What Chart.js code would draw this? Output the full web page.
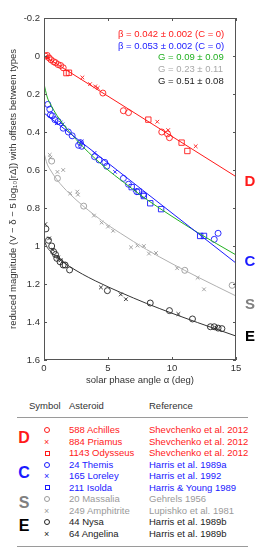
<!DOCTYPE html>
<html>
<head>
<meta charset="utf-8">
<script src="https://cdn.jsdelivr.net/npm/chart.js@4.4.0/dist/chart.umd.min.js"></script>
<style>
    body { margin: 0; background: #fff; font-family: "Liberation Sans", Arial, sans-serif; }
    #wrap { position: relative; width: 269px; height: 560px; overflow: hidden; }
    #plot { position: absolute; left: 0; top: 0; width: 269px; height: 395px; }
    .t { position: absolute; font-size: 9.5px; line-height: 12px; height: 12px; white-space: nowrap; }
    .big { position: absolute; font-size: 16px; font-weight: bold; line-height: 18px; width: 20px; text-align: center; }
    .rule { position: absolute; left: 17px; width: 231px; height: 1px; background: #9a9a9a; }
    .mk { position: absolute; box-sizing: border-box; }
</style>
</head>
<body>
<div id="wrap">
    <div id="plot"><canvas id="phaseChart"></canvas></div>
    <div id="table"></div>
</div>
<script>
// ================= DATA =================
const alphaTicks = [0, 5, 10, 15];
const magTicks = [-0.2, 0, 0.2, 0.4, 0.6, 0.8, 1.0, 1.2, 1.4, 1.6];

// D type (red)
const achillesPts = [[0.1, 0.0], [0.25, -0.003], [0.4, 0.01], [0.55, 0.02], [0.75, 0.03], [0.9, 0.035],
    [1.1, 0.045], [1.3, 0.05], [1.5, 0.062], [4.6, 0.195], [6.2, 0.288], [6.6, 0.298],
    [9.2, 0.40], [9.65, 0.41], [9.8, 0.43]];
const priamusPts = [[0.3, 0.005], [3.0, 0.113], [3.6, 0.148], [4.0, 0.16], [4.2, 0.168],
    [8.85, 0.346], [9.7, 0.39], [11.85, 0.475]];
const odysseusPts = [[1.75, 0.09], [1.95, 0.088], [8.15, 0.335], [10.75, 0.456], [11.2, 0.50]];

// C type (blue)
const themisPts = [[0.3, 0.255], [0.45, 0.28], [0.5, 0.31], [0.65, 0.315], [0.85, 0.335], [1.1, 0.345],
    [1.5, 0.38], [1.9, 0.40], [2.2, 0.42], [2.7, 0.47], [2.85, 0.456], [2.95, 0.475],
    [3.95, 0.53], [4.3, 0.547], [4.75, 0.56], [4.9, 0.58], [6.2, 0.644], [6.6, 0.675],
    [7.25, 0.714], [7.75, 0.73], [13.3, 0.965], [13.6, 0.933]];
const loreleyPts = [[1.0, 0.354], [1.3, 0.35], [1.45, 0.36], [2.95, 0.45], [3.95, 0.51],
    [5.55, 0.61], [7.1, 0.705]];
const isoldaPts = [[6.85, 0.69], [7.4, 0.714], [7.8, 0.737], [8.3, 0.775], [9.15, 0.806],
    [12.2, 0.947], [12.5, 0.947]];

// S type (gray)
const massaliaPts = [[0.6, 0.553], [1.05, 0.644], [3.1, 0.79], [11.0, 1.128], [14.7, 1.207]];
const amphitritePts = [[0.45, 0.52], [0.5, 0.535], [1.05, 0.61], [1.5, 0.60], [2.05, 0.723],
    [2.6, 0.714], [2.65, 0.73], [3.9, 0.84], [4.5, 0.877], [5.0, 0.898], [5.4, 0.92],
    [6.8, 1.007], [7.3, 0.998], [7.8, 1.0], [8.2, 1.04], [8.75, 1.037], [10.4, 1.117],
    [12.0, 1.167], [12.5, 1.228]];

// E type (black)
const nysaPts = [[0.15, 0.91], [0.35, 0.97], [0.6, 1.0], [0.75, 1.03], [0.9, 1.045], [1.0, 1.065],
    [1.25, 1.083], [1.5, 1.1], [1.65, 1.1], [2.0, 1.126], [4.95, 1.235], [8.3, 1.30],
    [9.8, 1.34], [11.6, 1.384], [13.0, 1.425], [13.3, 1.425], [13.6, 1.432], [13.9, 1.435]];
const angelinaPts = [[0.1, 0.885], [0.4, 0.96], [0.7, 1.02], [1.1, 1.06], [1.3, 1.075],
    [4.45, 1.218], [6.0, 1.255], [6.4, 1.28], [10.5, 1.358], [13.45, 1.43]];

// fitted curves
const fitAlpha = [0, 0.25, 0.5, 1, 1.5, 2, 3, 4, 5, 6, 8, 10, 12, 15];
const fitGreenC = [0.146, 0.216, 0.253, 0.312, 0.359, 0.40, 0.475, 0.54, 0.60, 0.653, 0.754, 0.844, 0.929, 1.047];
const fitGrayS = [0.51, 0.569, 0.60, 0.65, 0.69, 0.725, 0.786, 0.84, 0.89, 0.934, 1.018, 1.093, 1.163, 1.263];
const fitBlackE = [0.97, 1.007, 1.028, 1.059, 1.085, 1.108, 1.148, 1.183, 1.215, 1.245, 1.302, 1.354, 1.403, 1.474];
const lineAlpha = [0, 15];
const lineRedD = [0.0, 0.635];
const lineBlueC = [0.30, 1.09];

const fitLabels = ['β = 0.042 ± 0.002 (C = 0)', 'β = 0.053 ± 0.002 (C = 0)',
    'G = 0.09 ± 0.09', 'G = 0.23 ± 0.11', 'G = 0.51 ± 0.08'];
const typeLabels = ['D', 'C', 'S', 'E'];
const typeLabelMag = [0.66, 1.085, 1.31, 1.48];

// ================= COLOURS =================
const RED = '#ff1a1a';
const BLUE = '#1a1aff';
const GREEN = '#22b022';
const GRAY = '#9a9a9a';
const BLACK = '#222';

const FONT = '"Liberation Sans", Arial, sans-serif';

const pts = arr => arr.map(p => ({ x: p[0], y: p[1] }));
const curve = (xs, ys) => xs.map((x, i) => ({ x, y: ys[i] }));

function markers(data, style, color, radius) {
    return {
        data: pts(data),
        showLine: false,
        pointStyle: style,
        pointRadius: radius,
        borderColor: color,
        backgroundColor: 'rgba(0,0,0,0)',
        pointBorderWidth: 0.9
    };
}

function fitLine(data, color) {
    return {
        data,
        showLine: true,
        pointRadius: 0,
        borderColor: color,
        borderWidth: 1,
        tension: 0.4,
        cubicInterpolationMode: 'monotone'
    };
}

// ================= FRAME PLUGIN =================
const framePlugin = {
    id: 'frame',
    afterDatasetsDraw(chart) {
        const { ctx, chartArea: a, scales: { x, y } } = chart;
        ctx.save();
        ctx.strokeStyle = '#555';
        ctx.lineWidth = 1;
        ctx.strokeRect(a.left + 0.5, a.top + 0.5, a.right - a.left - 1, a.bottom - a.top - 1);

        ctx.beginPath();
        alphaTicks.forEach(v => {
            const px = Math.round(x.getPixelForValue(v)) + 0.5;
            ctx.moveTo(px, a.bottom); ctx.lineTo(px, a.bottom - 3);
            ctx.moveTo(px, a.top); ctx.lineTo(px, a.top + 3);
        });
        magTicks.forEach(v => {
            const py = Math.round(y.getPixelForValue(v)) + 0.5;
            ctx.moveTo(a.left, py); ctx.lineTo(a.left + 3, py);
            ctx.moveTo(a.right, py); ctx.lineTo(a.right - 3, py);
        });
        ctx.stroke();

        // fit results
        ctx.font = '9.5px ' + FONT;
        ctx.textBaseline = 'middle';
        ctx.textAlign = 'left';
        const fitColors = [RED, BLUE, GREEN, '#a8a8a8', BLACK];
        const fitX = [118, 118, 158, 158, 158];
        const fitY = [34, 46.5, 57.5, 69, 81];
        fitLabels.forEach((t, i) => {
            ctx.fillStyle = fitColors[i];
            ctx.fillText(t, fitX[i], fitY[i]);
        });

        // taxonomic type letters
        ctx.font = 'bold 15px ' + FONT;
        ctx.textAlign = 'center';
        const typeColors = [RED, BLUE, '#808080', '#000'];
        typeLabels.forEach((t, i) => {
            ctx.fillStyle = typeColors[i];
            ctx.fillText(t, a.right + 14, y.getPixelForValue(typeLabelMag[i]));
        });
        ctx.restore();
    }
};

// ================= CHART =================
new Chart(document.getElementById('phaseChart'), {
    type: 'scatter',
    data: {
        datasets: [
            fitLine(curve(lineAlpha, lineRedD), RED),
            fitLine(curve(lineAlpha, lineBlueC), BLUE),
            fitLine(curve(fitAlpha, fitGreenC), GREEN),
            fitLine(curve(fitAlpha, fitGrayS), '#b0b0b0'),
            fitLine(curve(fitAlpha, fitBlackE), '#333'),
            markers(achillesPts, 'circle', RED, 3),
            markers(priamusPts, 'crossRot', RED, 2.6),
            markers(odysseusPts, 'rect', RED, 3.8),
            markers(themisPts, 'circle', BLUE, 3),
            markers(loreleyPts, 'crossRot', BLUE, 2.6),
            markers(isoldaPts, 'rect', BLUE, 3.8),
            markers(massaliaPts, 'circle', GRAY, 3),
            markers(amphitritePts, 'crossRot', GRAY, 2.6),
            markers(nysaPts, 'circle', BLACK, 3),
            markers(angelinaPts, 'crossRot', BLACK, 2.6)
        ]
    },
    options: {
        responsive: true,
        maintainAspectRatio: false,
        animation: false,
        layout: { padding: { top: 18, right: 33, left: 0, bottom: 0 } },
        plugins: { legend: { display: false }, tooltip: { enabled: false } },
        scales: {
            x: {
                type: 'linear',
                min: 0,
                max: 15,
                grid: { display: false, drawTicks: false },
                border: { display: false },
                afterBuildTicks: s => { s.ticks = alphaTicks.map(v => ({ value: v })); },
                afterFit: s => { s.height = 35; },
                ticks: { padding: 3, color: '#333', font: { family: FONT, size: 9.5 } },
                title: {
                    display: true,
                    text: 'solar phase angle α (deg)',
                    color: '#333',
                    font: { family: FONT, size: 9.5 },
                    padding: { top: 0, bottom: 9 }
                }
            },
            y: {
                type: 'linear',
                reverse: true,
                min: -0.2,
                max: 1.6,
                grid: { display: false, drawTicks: false },
                border: { display: false },
                afterBuildTicks: s => { s.ticks = magTicks.map(v => ({ value: v })); },
                afterFit: s => { s.width = 44; },
                ticks: {
                    padding: 4,
                    color: '#333',
                    font: { family: FONT, size: 9.5 },
                    callback: v => (Math.abs(v) < 1e-9 ? '0' : String(Math.round(v * 10) / 10))
                },
                title: {
                    display: true,
                    text: 'reduced magnitude (V − δ − 5 log₁₀[rΔ]) with offsets between types',
                    color: '#333',
                    font: { family: FONT, size: 9.5 },
                    padding: { top: 8, bottom: 0 }
                }
            }
        }
    },
    plugins: [framePlugin]
});

// ================= LEGEND TABLE =================
const tableHeader = ['Symbol', 'Asteroid', 'Reference'];
const tableSymbols = ['circle', 'cross', 'square', 'circle', 'cross', 'square', 'circle', 'cross', 'circle', 'cross'];
const tableAsteroids = ['588 Achilles', '884 Priamus', '1143 Odysseus', '24 Themis', '165 Loreley',
    '211 Isolda', '20 Massalia', '249 Amphitrite', '44 Nysa', '64 Angelina'];
const tableRefs = ['Shevchenko et al. 2012', 'Shevchenko et al. 2012', 'Shevchenko et al. 2012',
    'Harris et al. 1989a', 'Harris et al. 1992', 'Harris & Young 1989', 'Gehrels 1956',
    'Lupishko et al. 1981', 'Harris et al. 1989b', 'Harris et al. 1989b'];
const tableColors = [RED, RED, RED, BLUE, BLUE, BLUE, GRAY, GRAY, BLACK, BLACK];
const tableTypeY = [438, 473, 503, 526];
const tableTypeColors = [RED, BLUE, '#808080', '#000'];

function renderTable() {
    const box = document.getElementById('table');
    let html = '';
    const headX = [29, 69, 149];
    tableHeader.forEach((h, i) => {
        html += `<div class="t" style="left:${headX[i]}px;top:400px;color:#333">${h}</div>`;
    });
    html += '<div class="rule" style="top:417px"></div>';
    html += '<div class="rule" style="top:546px"></div>';

    typeLabels.forEach((t, i) => {
        html += `<div class="big" style="left:14px;top:${tableTypeY[i] - 9}px;color:${tableTypeColors[i]}">${t}</div>`;
    });

    tableAsteroids.forEach((name, i) => {
        const cy = 430 + i * 11.56;
        const c = tableColors[i];
        const sym = tableSymbols[i];
        if (sym === 'circle') {
            html += `<div class="mk" style="left:44px;top:${cy - 3}px;width:6px;height:6px;border:1px solid ${c};border-radius:50%"></div>`;
        } else if (sym === 'square') {
            html += `<div class="mk" style="left:44.5px;top:${cy - 2.5}px;width:5px;height:5px;border:1px solid ${c}"></div>`;
        } else {
            html += `<div class="t" style="left:44px;top:${cy - 6}px;color:${c};font-size:9px">×</div>`;
        }
        html += `<div class="t" style="left:69px;top:${cy - 6}px;color:${c}">${name}</div>`;
        html += `<div class="t" style="left:149px;top:${cy - 6}px;color:${c}">${tableRefs[i]}</div>`;
    });
    box.innerHTML = html;
}

renderTable();
</script>
</body>
</html>
